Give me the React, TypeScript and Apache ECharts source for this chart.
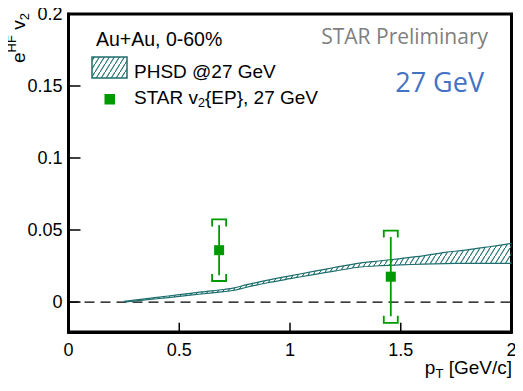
import React, { useEffect, useRef } from "react";
import * as echarts from "echarts";

// PHSD band (pT, lower, upper)
const bandX = [0.25, 0.4, 0.5, 0.6, 0.7, 0.75, 0.8, 0.9, 1.0, 1.1, 1.2, 1.3, 1.4, 1.5, 1.6, 1.7, 1.8, 1.9, 2.0];
const bandLo = [0, 0.0023, 0.0039, 0.0056, 0.0072, 0.0082, 0.0101, 0.0134, 0.0162, 0.0189, 0.0215, 0.024, 0.0252, 0.0258, 0.0263, 0.0267, 0.0269, 0.0269, 0.0269];
const bandHi = [0.0004, 0.0033, 0.0051, 0.007, 0.0087, 0.0098, 0.0119, 0.0152, 0.0182, 0.0211, 0.024, 0.0267, 0.0285, 0.0302, 0.032, 0.0345, 0.0362, 0.0384, 0.0407];

// STAR points
const ptX = [0.68, 1.455];
const ptY = [0.036, 0.0176];
const statErr = [0.0174, 0.0275];
const sysErr = [0.0214, 0.032];

const xTicks = [0, 0.5, 1, 1.5, 2];
const yTicks = [0, 0.05, 0.1, 0.15, 0.2];
const Y_MIN = -0.0208;
const Y_MAX = 0.2;
// y value just inside the bottom frame where the bottom ticks end
const X_TICK_TOP = -0.0143;

const TEAL = "#1f6e6e";
const GREEN = "#009a00";
const FONT = "Liberation Sans";

function makePattern() {
  const c = document.createElement("canvas");
  c.width = 5;
  c.height = 8;
  const ctx = c.getContext("2d")!;
  ctx.strokeStyle = TEAL;
  ctx.lineWidth = 1.1;
  ctx.beginPath();
  ctx.moveTo(-0.6, 9);
  ctx.lineTo(5.6, -1);
  ctx.stroke();
  return { image: c, repeat: "repeat", imageWidth: 5, imageHeight: 8 } as any;
}

export default function App() {
  const ref = useRef<HTMLDivElement>(null);
  useEffect(() => {
    const chart = echarts.init(ref.current!, null, { renderer: "svg" });
    const pattern = makePattern();
    const band = bandX.map((x, i) => [x, bandLo[i], bandHi[i]]);
    const pts = ptX.map((x, i) => [x, ptY[i], statErr[i], sysErr[i]]);
    const tickSeg: any[] = [];
    xTicks.forEach((v) => {
      tickSeg.push([v, Y_MIN]);
      tickSeg.push([v, X_TICK_TOP]);
      tickSeg.push([v, null]);
    });

    chart.setOption({
      animation: false,
      grid: {
        left: 68.5,
        right: 11.5,
        top: 14,
        bottom: 59,
        show: true,
        borderColor: "#000",
        borderWidth: 3,
        backgroundColor: "transparent",
      },
      xAxis: {
        type: "value",
        position: "bottom",
        min: 0,
        max: 2,
        interval: 0.5,
        axisLine: { show: true, onZero: false, lineStyle: { color: "#000", width: 3 } },
        splitLine: { show: false },
        axisTick: { show: false },
        axisLabel: {
          color: "#000",
          fontSize: 18,
          fontFamily: FONT,
          margin: 9,
          customValues: xTicks,
          formatter: (v: number) => String(+v.toFixed(2)),
        },
      },
      yAxis: {
        type: "value",
        position: "left",
        min: Y_MIN,
        max: Y_MAX,
        axisLine: { show: true, onZero: false, lineStyle: { color: "#000", width: 3 } },
        splitLine: { show: false },
        axisTick: {
          show: true,
          inside: true,
          length: 12,
          customValues: yTicks,
          lineStyle: { color: "#000", width: 1.5 },
        },
        axisLabel: {
          color: "#000",
          fontSize: 18,
          fontFamily: FONT,
          margin: 6,
          customValues: yTicks,
          formatter: (v: number) => String(+v.toFixed(3)),
        },
      },
      series: [
        {
          type: "line",
          data: [
            [0, 0],
            [2, 0],
          ],
          symbol: "none",
          lineStyle: { color: "#000", width: 1.3, type: [10, 6] },
          z: 1,
          silent: true,
        },
        {
          // bottom-axis ticks: short vertical segments from the frame upward
          type: "line",
          data: tickSeg,
          symbol: "none",
          connectNulls: false,
          lineStyle: { color: "#000", width: 1.5 },
          z: 6,
          silent: true,
        },
        {
          type: "custom",
          data: band,
          z: 2,
          silent: true,
          renderItem: (params: any, api: any) => {
            if (params.dataIndex !== 0) return null;
            const up = bandX.map((x, i) => api.coord([x, bandHi[i]]));
            const dn = bandX.map((x, i) => api.coord([x, bandLo[i]]));
            const poly = up.concat(dn.slice().reverse());
            return {
              type: "group",
              children: [
                { type: "polygon", shape: { points: poly }, style: { fill: pattern, stroke: "none" } },
                { type: "polyline", shape: { points: up, smooth: 0.3 }, style: { stroke: TEAL, lineWidth: 1.2, fill: "none" } },
                { type: "polyline", shape: { points: dn, smooth: 0.3 }, style: { stroke: TEAL, lineWidth: 1.2, fill: "none" } },
              ],
            };
          },
        },
        {
          type: "custom",
          data: pts,
          z: 3,
          silent: true,
          renderItem: (params: any, api: any) => {
            const x = api.value(0);
            const y = api.value(1);
            const st = api.value(2);
            const sy = api.value(3);
            const c = api.coord([x, y]);
            const sT = api.coord([x, y + st]);
            const sB = api.coord([x, y - st]);
            const yT = api.coord([x, y + sy]);
            const yB = api.coord([x, y - sy]);
            const cx = c[0];
            const w = 7;
            const h = 7;
            const style = { stroke: GREEN, lineWidth: 1.8, fill: "none" };
            return {
              type: "group",
              children: [
                { type: "line", shape: { x1: cx, y1: sT[1], x2: cx, y2: sB[1] }, style },
                {
                  type: "polyline",
                  shape: { points: [[cx - w, yT[1] + h], [cx - w, yT[1]], [cx + w, yT[1]], [cx + w, yT[1] + h]] },
                  style,
                },
                {
                  type: "polyline",
                  shape: { points: [[cx - w, yB[1] - h], [cx - w, yB[1]], [cx + w, yB[1]], [cx + w, yB[1] - h]] },
                  style,
                },
                {
                  type: "rect",
                  shape: { x: cx - 5, y: c[1] - 5, width: 10, height: 10 },
                  style: { fill: GREEN },
                },
              ],
            };
          },
        },
      ],
      graphic: [
        {
          type: "text",
          x: 18,
          y: 38,
          rotation: Math.PI / 2,
          style: {
            text: "e{sup|HF} v{sub|2}",
            fontSize: 19,
            fontFamily: FONT,
            fill: "#000",
            align: "center",
            verticalAlign: "middle",
            lineHeight: 26,
            rich: {
              sup: { fontSize: 13, fontFamily: FONT, lineHeight: 13, verticalAlign: "top" },
              sub: { fontSize: 13, fontFamily: FONT, lineHeight: 13, verticalAlign: "bottom" },
            },
          },
        },
        {
          type: "text",
          x: 512,
          y: 367,
          style: {
            text: "p{sub|T} [GeV/c]",
            fontSize: 19,
            fontFamily: FONT,
            fill: "#000",
            align: "right",
            verticalAlign: "middle",
            lineHeight: 26,
            rich: {
              sub: { fontSize: 13, fontFamily: FONT, lineHeight: 13, verticalAlign: "bottom" },
            },
          },
        },
        {
          type: "text",
          x: 96,
          y: 39,
          style: { text: "Au+Au, 0-60%", fontSize: 19.5, fontFamily: FONT, fill: "#000", verticalAlign: "middle" },
        },
        {
          type: "rect",
          shape: { x: 92, y: 57, width: 35, height: 21 },
          style: { fill: pattern, stroke: TEAL, lineWidth: 1.5 },
        },
        {
          type: "text",
          x: 134,
          y: 71,
          style: { text: "PHSD @27 GeV", fontSize: 19, fontFamily: FONT, fill: "#000", verticalAlign: "middle" },
        },
        {
          type: "rect",
          shape: { x: 104.5, y: 94, width: 10.5, height: 10.5 },
          style: { fill: GREEN },
        },
        {
          type: "text",
          x: 134,
          y: 97,
          style: {
            text: "STAR v{sub|2}{EP}, 27 GeV",
            fontSize: 19,
            fontFamily: FONT,
            fill: "#000",
            verticalAlign: "middle",
            lineHeight: 24,
            rich: {
              sub: { fontSize: 12.5, fontFamily: FONT, lineHeight: 12, verticalAlign: "bottom" },
            },
          },
        },
        {
          type: "text",
          x: 488,
          y: 36,
          style: {
            text: "STAR Preliminary",
            fontSize: 21,
            fontFamily: "Open Sans",
            fill: "#7f7f7f",
            align: "right",
            verticalAlign: "middle",
          },
        },
        {
          type: "text",
          x: 484,
          y: 81,
          style: {
            text: "27 GeV",
            fontSize: 27,
            fontFamily: "Open Sans",
            fill: "#4472c4",
            align: "right",
            verticalAlign: "middle",
          },
        },
      ],
    });
    return () => chart.dispose();
  }, []);
  return <div ref={ref} style={{ width: 523, height: 391, margin: -8 }} />;
}
